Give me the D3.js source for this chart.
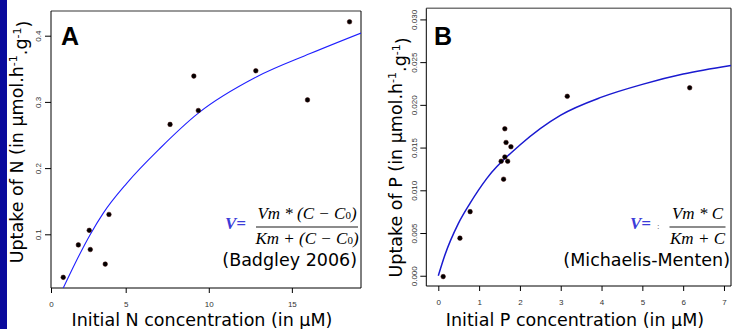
<!DOCTYPE html>
<html>
<head>
<meta charset="utf-8">
<script src="https://cdn.jsdelivr.net/npm/d3@7"></script>
<style>
  body { margin: 0; background: #fff; }
  svg { display: block; }
</style>
</head>
<body>
<figure id="chart" style="margin:0"></figure>
<script>
// Panel A : nitrogen uptake
const nConc   = [0.82, 1.83, 2.56, 2.63, 3.63, 3.88, 7.67, 9.10, 9.37, 12.83, 15.94, 18.47];
const nUptake = [0.035, 0.084, 0.106, 0.077, 0.055, 0.130, 0.266, 0.339, 0.287, 0.347, 0.303, 0.421];
// fitted curve
const nCurveC = [0.82, 1.61, 2.61, 3.50, 5.06, 7.07, 9.37, 12.89, 16.10, 19.16];
const nCurveV = [0.019, 0.056, 0.099, 0.132, 0.177, 0.230, 0.283, 0.338, 0.373, 0.404];
const nTicksX = [0, 5, 10, 15];
const nTicksY = [0.1, 0.2, 0.3, 0.4];

// Panel B : phosphorus uptake
const pConc   = [0.12, 0.53, 0.78, 1.54, 1.60, 1.63, 1.63, 1.66, 1.70, 1.78, 3.16, 6.16];
const pUptake = [-0.0001, 0.0044, 0.0075, 0.0134, 0.0113, 0.0172, 0.0139, 0.0156, 0.0134, 0.0151, 0.0210, 0.0220];
const pCurveC = [0, 0.16, 0.49, 0.78, 1.19, 2, 3, 4, 5, 6, 7.17];
const pCurveV = [0, 0.0024, 0.0061, 0.0085, 0.0114, 0.0153, 0.0188, 0.0209, 0.0224, 0.0236, 0.0246];
const pTicksX = [0, 1, 2, 3, 4, 5, 6, 7];
const pTicksY = [0, 0.005, 0.010, 0.015, 0.020, 0.025, 0.030];

const width = 732, height = 329;

const svg = d3.select("figure#chart")
  .append("svg")
  .attr("width", width)
  .attr("height", height)
  .style("font-family", "'DejaVu Sans', Verdana, sans-serif");

// dark blue strip on the left edge
svg.append("rect")
  .attr("x", 0).attr("y", 0)
  .attr("width", 7).attr("height", height)
  .attr("fill", "#0a0a9c");

function drawPanel(p) {
  const g = svg.append("g");
  const xr = p.x.range();
  const x0 = xr[0], x1 = xr[xr.length - 1];
  const [yb, yt] = p.y.range();

  const clipId = "clip-" + p.letter;
  g.append("clipPath").attr("id", clipId)
    .append("rect")
    .attr("x", x0).attr("y", yt)
    .attr("width", x1 - x0).attr("height", yb - yt);

  // X axis
  const xa = g.append("g")
    .attr("transform", "translate(0," + yb + ")")
    .call(d3.axisBottom(p.x).tickValues(p.ticksX).tickSize(5).tickSizeOuter(0).tickPadding(8));
  xa.select(".domain").remove();
  xa.selectAll("text")
    .style("font-family", "'Liberation Sans', Arial, sans-serif")
    .style("font-size", "8px")
    .attr("fill", "#333");

  // Y axis, rotated tick labels as in R
  const ya = g.append("g")
    .attr("transform", "translate(" + x0 + ",0)")
    .call(d3.axisLeft(p.y).tickValues(p.ticksY).tickSize(6).tickFormat(p.fmt));
  ya.select(".domain").remove();
  ya.selectAll("text")
    .attr("transform", "rotate(-90)")
    .attr("x", 0)
    .attr("y", p.labelOff)
    .attr("dy", 0)
    .attr("text-anchor", "middle")
    .style("font-family", "'Liberation Sans', Arial, sans-serif")
    .style("font-size", "8px")
    .attr("fill", "#333");

  // plot box
  g.append("line").attr("x1", x0).attr("x2", x1).attr("y1", yt).attr("y2", yt)
    .attr("stroke", "#777").attr("stroke-width", 1.5);
  g.append("line").attr("x1", x0).attr("x2", x1).attr("y1", yb).attr("y2", yb)
    .attr("stroke", "#000");
  g.append("line").attr("x1", x0).attr("x2", x0).attr("y1", yt).attr("y2", yb)
    .attr("stroke", "#000");
  g.append("line").attr("x1", x1).attr("x2", x1).attr("y1", yt).attr("y2", yb)
    .attr("stroke", "#000");

  // fitted curve
  const line = d3.line()
    .x((d, i) => p.x(p.curveC[i]))
    .y((d, i) => p.y(p.curveV[i]))
    .curve(d3.curveMonotoneX);
  g.append("path")
    .datum(p.curveC)
    .attr("clip-path", "url(#" + clipId + ")")
    .attr("d", line)
    .attr("fill", "none")
    .attr("stroke", p.curveColor)
    .attr("stroke-width", p.curveWidth);

  // observations
  g.selectAll("circle.pt")
    .data(p.conc)
    .enter()
    .append("circle")
    .attr("class", "pt")
    .attr("cx", d => p.x(d))
    .attr("cy", (d, i) => p.y(p.uptake[i]))
    .attr("r", 2.3)
    .attr("fill", "#000")
    .attr("stroke", "#3a0000")
    .attr("stroke-width", 0.5);

  // panel letter
  g.append("text")
    .attr("x", p.letterX).attr("y", 45)
    .style("font-family", "'Liberation Sans', Arial, sans-serif")
    .style("font-weight", "bold")
    .style("font-size", "25px")
    .text(p.letter);

  // axis titles
  g.append("text")
    .attr("x", p.xTitleX).attr("y", p.xTitleY)
    .attr("text-anchor", "middle")
    .style("font-size", "17.5px")
    .text(p.xTitle);

  const yt2 = g.append("text")
    .attr("transform", "translate(" + p.yTitleX + "," + p.yTitleY + ") rotate(-90)")
    .attr("text-anchor", "middle")
    .style("font-size", "17.5px");
  yt2.append("tspan").text("Uptake of " + p.elem + " (in µmol.h");
  yt2.append("tspan").attr("dy", "-0.55em").style("font-size", "11px").text("-1");
  yt2.append("tspan").attr("dy", "0.55em").text(".g");
  yt2.append("tspan").attr("dy", "-0.55em").style("font-size", "11px").text("-1");
  yt2.append("tspan").attr("dy", "0.55em").text(")");

  // formula
  const serif = "'Liberation Serif', 'Times New Roman', serif";
  g.append("text")
    .attr("x", p.eqX).attr("y", 229)
    .style("font-family", serif)
    .style("font-style", "italic")
    .style("font-weight", "bold")
    .style("font-size", "17px")
    .attr("fill", "#3c3cd8")
    .text("V=");
  if (p.colon) {
    g.append("text")
      .attr("x", p.colon).attr("y", 229)
      .style("font-family", serif)
      .style("font-size", "9px")
      .attr("fill", "#555")
      .text(":");
  }
  g.append("line")
    .attr("x1", p.fracX - p.fracW / 2).attr("x2", p.fracX + p.fracW / 2)
    .attr("y1", 227).attr("y2", 227)
    .attr("stroke", "#666").attr("stroke-width", 1.4);
  [[p.num, 219], [p.den, 244]].forEach(([parts, yy]) => {
    const t = g.append("text")
      .attr("x", p.fracX).attr("y", yy)
      .attr("text-anchor", "middle")
      .style("font-family", serif)
      .style("font-style", "italic")
      .style("font-size", "17px");
    parts.forEach(s => {
      if (s === "0") t.append("tspan").style("font-style", "normal").style("font-size", "11px").text("0");
      else t.append("tspan").text(s);
    });
  });
  g.append("text")
    .attr("x", p.refX).attr("y", 266)
    .attr("text-anchor", "end")
    .style("font-size", "17.5px")
    .text(p.ref);
}

// the picture's N axis is stretched between 0 and 5, so a two-piece scale
drawPanel({
  letter: "A", elem: "N",
  x: d3.scaleLinear().domain([0, 5, 19.16]).range([51, 125.7, 361]),
  y: d3.scaleLinear().domain([0.0189, 0.4373]).range([288, 11]),
  ticksX: nTicksX, ticksY: nTicksY, fmt: d3.format(".1f"),
  labelOff: -10,
  conc: nConc, uptake: nUptake, curveC: nCurveC, curveV: nCurveV,
  curveColor: "#1f1fff", curveWidth: 1.1,
  letterX: 61,
  xTitle: "Initial N concentration (in µM)", xTitleX: 202, xTitleY: 326,
  yTitleX: 23, yTitleY: 142,
  eqX: 225, colon: null,
  fracX: 307, fracW: 102,
  num: ["Vm", " * (", "C", " \u2212 ", "C", "0", ")"],
  den: ["Km", " + (", "C", " \u2212 ", "C", "0", ")"],
  refX: 357, ref: "(Badgley 2006)"
});

drawPanel({
  letter: "B", elem: "P",
  x: d3.scaleLinear().domain([-0.294, 7.172]).range([426.3, 731]),
  y: d3.scaleLinear().domain([-0.0012, 0.0313]).range([286, 8.3]),
  ticksX: pTicksX, ticksY: pTicksY, fmt: d3.format(".3f"),
  labelOff: -9.5,
  conc: pConc, uptake: pUptake, curveC: pCurveC, curveV: pCurveV,
  curveColor: "#1a1ad0", curveWidth: 1.5,
  letterX: 434,
  xTitle: "Initial P concentration (in µM)", xTitleX: 575, xTitleY: 326,
  yTitleX: 402, yTitleY: 157.5,
  eqX: 630, colon: 657,
  fracX: 697.5, fracW: 56,
  num: ["Vm", " * ", "C"],
  den: ["Km", " + ", "C"],
  refX: 730, ref: "(Michaelis-Menten)"
});
</script>
</body>
</html>
